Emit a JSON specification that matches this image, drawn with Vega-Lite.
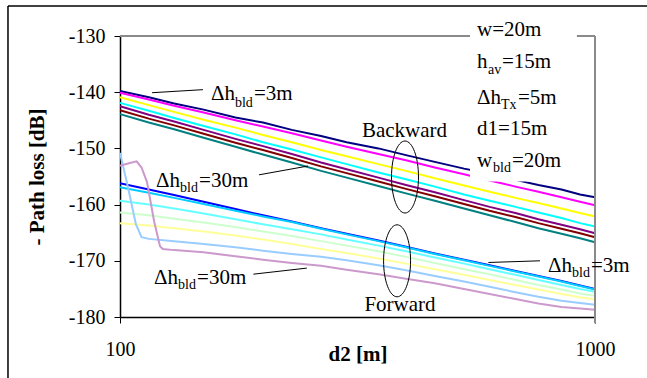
{
  "$schema": "https://vega.github.io/schema/vega-lite/v6.json",
  "width": 475,
  "height": 281,
  "autosize": {"type": "none"},
  "padding": {"left": 120, "top": 36, "right": 52, "bottom": 61},
  "background": "white",
  "config": {
    "font": "Times New Roman, Liberation Serif, serif",
    "text": {"font": "Times New Roman, Liberation Serif, serif"},
    "view": {"stroke": null},
    "axis": {"grid": false, "zindex": 1, "labelFont": "Times New Roman, Liberation Serif, serif", "titleFont": "Times New Roman, Liberation Serif, serif"}
  },
  "datasets": {
    "frame": [
      {"d": 58.1, "d2": 58.1, "pl": -124.64, "pl2": -200},
      {"d": 58.1, "d2": 2500, "pl": -124.64, "pl2": -124.64}
    ],
    "mask": [{"d": 545.6, "d2": 916, "pl": -155.9, "pl2": -125}],
    "border": [
      {"d": 100, "d2": 545.6, "pl": -130, "pl2": -130},
      {"d": 916, "d2": 1000, "pl": -130, "pl2": -130},
      {"d": 1000, "d2": 1000, "pl": -130, "pl2": -181.1}
    ],
    "leaders": [
      {"d": 116.8, "d2": 149.5, "pl": -140.09, "pl2": -139.55},
      {"d": 196.2, "d2": 248.9, "pl": -154.7, "pl2": -153.13},
      {"d": 190.9, "d2": 247.3, "pl": -172.38, "pl2": -171.3},
      {"d": 596.4, "d2": 766.0, "pl": -170.3, "pl2": -170.0}
    ],
    "ellipses": [
      {"d": 398.1, "pl": -155.09},
      {"d": 383.1, "pl": -170.0}
    ],
    "maintext": [
      {"t": "Δh", "d": 155.5, "pl": -141.43},
      {"t": "=3m", "d": 191.5, "pl": -141.43},
      {"t": "Δh", "d": 119.1, "pl": -156.91},
      {"t": "=30m", "d": 146.7, "pl": -156.91},
      {"t": "Δh", "d": 117.9, "pl": -174.16},
      {"t": "=30m", "d": 145.3, "pl": -174.16},
      {"t": "Δh", "d": 796.3, "pl": -171.96},
      {"t": "=3m", "d": 980.8, "pl": -171.96},
      {"t": "w=20m", "d": 564.5, "pl": -130},
      {"t": "h", "d": 564.5, "pl": -135.71},
      {"t": "=15m", "d": 637.2, "pl": -135.71},
      {"t": "Δh", "d": 564.5, "pl": -142.02},
      {"t": "=5m", "d": 688.5, "pl": -142.02},
      {"t": "d1=15m", "d": 564.5, "pl": -147.68},
      {"t": "w", "d": 564.5, "pl": -153.34},
      {"t": "=20m", "d": 668.7, "pl": -153.34}
    ],
    "subtext": [
      {"t": "bld", "d": 174.6, "pl": -142.59},
      {"t": "bld", "d": 133.8, "pl": -157.8},
      {"t": "bld", "d": 132.5, "pl": -175.05},
      {"t": "bld", "d": 894.5, "pl": -172.86},
      {"t": "av", "d": 595.5, "pl": -136.79},
      {"t": "Tx", "d": 634.1, "pl": -142.95},
      {"t": "bld", "d": 610.0, "pl": -154.23}
    ],
    "centertext": [
      {"t": "Backward", "d": 397.2, "pl": -147.98},
      {"t": "Forward", "d": 388.6, "pl": -178.93}
    ],
    "lines": [
      {"s":"B1","d":100,"pl":-139.8},{"s":"B1","d":115,"pl":-140.9},{"s":"B1","d":130,"pl":-142.0},{"s":"B1","d":150,"pl":-143.1},{"s":"B1","d":175,"pl":-144.5},{"s":"B1","d":200,"pl":-145.4},{"s":"B1","d":230,"pl":-146.7},{"s":"B1","d":265,"pl":-147.8},{"s":"B1","d":300,"pl":-148.9},{"s":"B1","d":350,"pl":-150.0},{"s":"B1","d":400,"pl":-151.2},{"s":"B1","d":460,"pl":-152.4},{"s":"B1","d":530,"pl":-153.6},{"s":"B1","d":600,"pl":-154.5},{"s":"B1","d":680,"pl":-155.6},{"s":"B1","d":760,"pl":-156.5},{"s":"B1","d":850,"pl":-157.3},{"s":"B1","d":930,"pl":-158.2},{"s":"B1","d":1000,"pl":-158.7},
      {"s":"B2","d":100,"pl":-140.1},{"s":"B2","d":115,"pl":-141.3},{"s":"B2","d":130,"pl":-142.4},{"s":"B2","d":150,"pl":-143.6},{"s":"B2","d":175,"pl":-145.0},{"s":"B2","d":200,"pl":-146.1},{"s":"B2","d":230,"pl":-147.3},{"s":"B2","d":265,"pl":-148.6},{"s":"B2","d":300,"pl":-149.7},{"s":"B2","d":350,"pl":-151.0},{"s":"B2","d":400,"pl":-152.1},{"s":"B2","d":460,"pl":-153.4},{"s":"B2","d":530,"pl":-154.6},{"s":"B2","d":600,"pl":-155.7},{"s":"B2","d":680,"pl":-156.8},{"s":"B2","d":760,"pl":-157.7},{"s":"B2","d":850,"pl":-158.7},{"s":"B2","d":930,"pl":-159.5},{"s":"B2","d":1000,"pl":-160.1},
      {"s":"B3","d":100,"pl":-140.9},{"s":"B3","d":115,"pl":-142.3},{"s":"B3","d":130,"pl":-143.5},{"s":"B3","d":150,"pl":-144.9},{"s":"B3","d":175,"pl":-146.3},{"s":"B3","d":200,"pl":-147.6},{"s":"B3","d":230,"pl":-148.9},{"s":"B3","d":265,"pl":-150.3},{"s":"B3","d":300,"pl":-151.4},{"s":"B3","d":350,"pl":-152.8},{"s":"B3","d":400,"pl":-154.0},{"s":"B3","d":460,"pl":-155.3},{"s":"B3","d":530,"pl":-156.6},{"s":"B3","d":600,"pl":-157.7},{"s":"B3","d":680,"pl":-158.8},{"s":"B3","d":760,"pl":-159.7},{"s":"B3","d":850,"pl":-160.7},{"s":"B3","d":930,"pl":-161.5},{"s":"B3","d":1000,"pl":-162.1},
      {"s":"B4","d":100,"pl":-141.9},{"s":"B4","d":115,"pl":-143.3},{"s":"B4","d":130,"pl":-144.6},{"s":"B4","d":150,"pl":-146.0},{"s":"B4","d":175,"pl":-147.5},{"s":"B4","d":200,"pl":-148.9},{"s":"B4","d":230,"pl":-150.2},{"s":"B4","d":265,"pl":-151.6},{"s":"B4","d":300,"pl":-152.8},{"s":"B4","d":350,"pl":-154.3},{"s":"B4","d":400,"pl":-155.5},{"s":"B4","d":460,"pl":-156.8},{"s":"B4","d":530,"pl":-158.2},{"s":"B4","d":600,"pl":-159.3},{"s":"B4","d":680,"pl":-160.4},{"s":"B4","d":760,"pl":-161.4},{"s":"B4","d":850,"pl":-162.4},{"s":"B4","d":930,"pl":-163.3},{"s":"B4","d":1000,"pl":-163.9},
      {"s":"B5","d":100,"pl":-142.5},{"s":"B5","d":115,"pl":-144.0},{"s":"B5","d":130,"pl":-145.2},{"s":"B5","d":150,"pl":-146.7},{"s":"B5","d":175,"pl":-148.3},{"s":"B5","d":200,"pl":-149.6},{"s":"B5","d":230,"pl":-151.0},{"s":"B5","d":265,"pl":-152.5},{"s":"B5","d":300,"pl":-153.7},{"s":"B5","d":350,"pl":-155.2},{"s":"B5","d":400,"pl":-156.5},{"s":"B5","d":460,"pl":-157.8},{"s":"B5","d":530,"pl":-159.2},{"s":"B5","d":600,"pl":-160.4},{"s":"B5","d":680,"pl":-161.5},{"s":"B5","d":760,"pl":-162.6},{"s":"B5","d":850,"pl":-163.6},{"s":"B5","d":930,"pl":-164.4},{"s":"B5","d":1000,"pl":-165.1},
      {"s":"B6","d":100,"pl":-143.2},{"s":"B6","d":115,"pl":-144.7},{"s":"B6","d":130,"pl":-145.9},{"s":"B6","d":150,"pl":-147.4},{"s":"B6","d":175,"pl":-149.0},{"s":"B6","d":200,"pl":-150.3},{"s":"B6","d":230,"pl":-151.7},{"s":"B6","d":265,"pl":-153.2},{"s":"B6","d":300,"pl":-154.4},{"s":"B6","d":350,"pl":-155.9},{"s":"B6","d":400,"pl":-157.2},{"s":"B6","d":460,"pl":-158.5},{"s":"B6","d":530,"pl":-159.9},{"s":"B6","d":600,"pl":-161.1},{"s":"B6","d":680,"pl":-162.2},{"s":"B6","d":760,"pl":-163.3},{"s":"B6","d":850,"pl":-164.3},{"s":"B6","d":930,"pl":-165.1},{"s":"B6","d":1000,"pl":-165.8},
      {"s":"B7","d":100,"pl":-143.9},{"s":"B7","d":115,"pl":-145.4},{"s":"B7","d":130,"pl":-146.6},{"s":"B7","d":150,"pl":-148.1},{"s":"B7","d":175,"pl":-149.7},{"s":"B7","d":200,"pl":-151.1},{"s":"B7","d":230,"pl":-152.5},{"s":"B7","d":265,"pl":-154.0},{"s":"B7","d":300,"pl":-155.2},{"s":"B7","d":350,"pl":-156.7},{"s":"B7","d":400,"pl":-158.0},{"s":"B7","d":460,"pl":-159.3},{"s":"B7","d":530,"pl":-160.7},{"s":"B7","d":600,"pl":-161.9},{"s":"B7","d":680,"pl":-163.1},{"s":"B7","d":760,"pl":-164.2},{"s":"B7","d":850,"pl":-165.2},{"s":"B7","d":930,"pl":-166.0},{"s":"B7","d":1000,"pl":-166.7},
      {"s":"F1","d":100,"pl":-156.2},{"s":"F1","d":115,"pl":-157.3},{"s":"F1","d":130,"pl":-158.3},{"s":"F1","d":150,"pl":-159.5},{"s":"F1","d":175,"pl":-160.8},{"s":"F1","d":200,"pl":-161.9},{"s":"F1","d":230,"pl":-163.0},{"s":"F1","d":265,"pl":-164.2},{"s":"F1","d":300,"pl":-165.2},{"s":"F1","d":350,"pl":-166.4},{"s":"F1","d":400,"pl":-167.5},{"s":"F1","d":460,"pl":-168.7},{"s":"F1","d":530,"pl":-169.8},{"s":"F1","d":600,"pl":-170.8},{"s":"F1","d":680,"pl":-171.8},{"s":"F1","d":760,"pl":-172.7},{"s":"F1","d":850,"pl":-173.6},{"s":"F1","d":930,"pl":-174.4},{"s":"F1","d":1000,"pl":-175.0},
      {"s":"F2","d":100,"pl":-156.9},{"s":"F2","d":115,"pl":-157.9},{"s":"F2","d":130,"pl":-158.8},{"s":"F2","d":150,"pl":-159.9},{"s":"F2","d":175,"pl":-161.1},{"s":"F2","d":200,"pl":-162.1},{"s":"F2","d":230,"pl":-163.1},{"s":"F2","d":265,"pl":-164.3},{"s":"F2","d":300,"pl":-165.3},{"s":"F2","d":350,"pl":-166.5},{"s":"F2","d":400,"pl":-167.6},{"s":"F2","d":460,"pl":-168.8},{"s":"F2","d":530,"pl":-169.9},{"s":"F2","d":600,"pl":-170.9},{"s":"F2","d":680,"pl":-171.9},{"s":"F2","d":760,"pl":-172.8},{"s":"F2","d":850,"pl":-173.7},{"s":"F2","d":930,"pl":-174.5},{"s":"F2","d":1000,"pl":-175.1},
      {"s":"F3","d":100,"pl":-159.3},{"s":"F3","d":115,"pl":-160.0},{"s":"F3","d":130,"pl":-160.7},{"s":"F3","d":150,"pl":-161.6},{"s":"F3","d":175,"pl":-162.6},{"s":"F3","d":200,"pl":-163.5},{"s":"F3","d":230,"pl":-164.4},{"s":"F3","d":265,"pl":-165.3},{"s":"F3","d":300,"pl":-166.2},{"s":"F3","d":350,"pl":-167.3},{"s":"F3","d":400,"pl":-168.3},{"s":"F3","d":460,"pl":-169.4},{"s":"F3","d":530,"pl":-170.5},{"s":"F3","d":600,"pl":-171.5},{"s":"F3","d":680,"pl":-172.5},{"s":"F3","d":760,"pl":-173.4},{"s":"F3","d":850,"pl":-174.3},{"s":"F3","d":930,"pl":-175.0},{"s":"F3","d":1000,"pl":-175.5},
      {"s":"F4","d":100,"pl":-161.4},{"s":"F4","d":115,"pl":-161.9},{"s":"F4","d":130,"pl":-162.5},{"s":"F4","d":150,"pl":-163.2},{"s":"F4","d":175,"pl":-164.0},{"s":"F4","d":200,"pl":-164.8},{"s":"F4","d":230,"pl":-165.6},{"s":"F4","d":265,"pl":-166.5},{"s":"F4","d":300,"pl":-167.3},{"s":"F4","d":350,"pl":-168.3},{"s":"F4","d":400,"pl":-169.3},{"s":"F4","d":460,"pl":-170.4},{"s":"F4","d":530,"pl":-171.5},{"s":"F4","d":600,"pl":-172.4},{"s":"F4","d":680,"pl":-173.4},{"s":"F4","d":760,"pl":-174.3},{"s":"F4","d":850,"pl":-175.1},{"s":"F4","d":930,"pl":-175.8},{"s":"F4","d":1000,"pl":-176.2},
      {"s":"F5","d":100,"pl":-163.3},{"s":"F5","d":115,"pl":-163.7},{"s":"F5","d":130,"pl":-164.2},{"s":"F5","d":150,"pl":-164.8},{"s":"F5","d":175,"pl":-165.5},{"s":"F5","d":200,"pl":-166.2},{"s":"F5","d":230,"pl":-167.0},{"s":"F5","d":265,"pl":-167.9},{"s":"F5","d":300,"pl":-168.6},{"s":"F5","d":350,"pl":-169.6},{"s":"F5","d":400,"pl":-170.5},{"s":"F5","d":460,"pl":-171.5},{"s":"F5","d":530,"pl":-172.5},{"s":"F5","d":600,"pl":-173.4},{"s":"F5","d":680,"pl":-174.3},{"s":"F5","d":760,"pl":-175.1},{"s":"F5","d":850,"pl":-175.9},{"s":"F5","d":930,"pl":-176.5},{"s":"F5","d":1000,"pl":-176.9},
      {"s":"F6","d":100,"pl":-150.8},{"s":"F6","d":104,"pl":-157.0},{"s":"F6","d":108,"pl":-163.5},{"s":"F6","d":111,"pl":-165.8},{"s":"F6","d":115,"pl":-166.1},{"s":"F6","d":130,"pl":-166.5},{"s":"F6","d":150,"pl":-167.0},{"s":"F6","d":175,"pl":-167.6},{"s":"F6","d":200,"pl":-168.2},{"s":"F6","d":230,"pl":-168.8},{"s":"F6","d":265,"pl":-169.3},{"s":"F6","d":300,"pl":-169.9},{"s":"F6","d":350,"pl":-170.8},{"s":"F6","d":400,"pl":-171.7},{"s":"F6","d":460,"pl":-172.7},{"s":"F6","d":530,"pl":-173.7},{"s":"F6","d":600,"pl":-174.6},{"s":"F6","d":680,"pl":-175.6},{"s":"F6","d":760,"pl":-176.4},{"s":"F6","d":850,"pl":-177.1},{"s":"F6","d":930,"pl":-177.5},{"s":"F6","d":1000,"pl":-177.8},
      {"s":"F7","d":100,"pl":-153.1},{"s":"F7","d":104,"pl":-152.7},{"s":"F7","d":108.4,"pl":-152.3},{"s":"F7","d":111,"pl":-153.4},{"s":"F7","d":114,"pl":-156.0},{"s":"F7","d":118,"pl":-163.0},{"s":"F7","d":121.4,"pl":-167.4},{"s":"F7","d":123,"pl":-167.9},{"s":"F7","d":130,"pl":-168.1},{"s":"F7","d":150,"pl":-168.5},{"s":"F7","d":175,"pl":-169.2},{"s":"F7","d":200,"pl":-169.8},{"s":"F7","d":230,"pl":-170.4},{"s":"F7","d":265,"pl":-170.9},{"s":"F7","d":300,"pl":-171.6},{"s":"F7","d":350,"pl":-172.4},{"s":"F7","d":400,"pl":-173.2},{"s":"F7","d":460,"pl":-174.0},{"s":"F7","d":530,"pl":-175.0},{"s":"F7","d":600,"pl":-175.9},{"s":"F7","d":680,"pl":-176.8},{"s":"F7","d":760,"pl":-177.6},{"s":"F7","d":850,"pl":-178.2},{"s":"F7","d":930,"pl":-178.5},{"s":"F7","d":1000,"pl":-178.7}
    ]
  },
  "layer": [
    {
      "data": {"name": "lines"},
      "mark": {"type": "line", "strokeWidth": 2},
      "encoding": {
        "x": {
          "field": "d", "type": "quantitative",
          "scale": {"type": "log", "domain": [100, 1000], "nice": false},
          "axis": {
            "title": "d2 [m]", "values": [100, 1000], "format": "d",
            "labelFontSize": 20, "labelColor": "black", "labelBaseline": "alphabetic",
            "labelPadding": 32, "labelFlush": false, "labelOverlap": false,
            "tickSize": 6, "tickColor": "black", "domainColor": "black", "domainWidth": 1.5,
            "titleFontSize": 21, "titleFontWeight": "bold", "titleColor": "black",
            "titleBaseline": "alphabetic", "titleY": 43, "titleX": 237.5
          }
        },
        "y": {
          "field": "pl", "type": "quantitative",
          "scale": {"domain": [-180, -130], "nice": false, "zero": false},
          "axis": {
            "title": "- Path loss [dB]", "values": [-180, -170, -160, -150, -140, -130],
            "labelExpr": "'-' + abs(datum.value)",
            "labelFontSize": 20, "labelColor": "black", "labelPadding": 9,
            "tickSize": 6, "tickColor": "black", "domainColor": "black", "domainWidth": 1.5,
            "titleFontSize": 21, "titleFontWeight": "bold", "titleColor": "black",
            "titleAngle": -90, "titleX": -83, "titleY": 140.5,
            "titleAlign": "center", "titleBaseline": "middle"
          }
        },
        "color": {
          "field": "s", "type": "nominal", "legend": null,
          "scale": {
            "domain": ["B1","B2","B3","B4","B5","B6","B7","F1","F2","F3","F4","F5","F6","F7"],
            "range": ["#000080","#FF00FF","#FFFF00","#00FFFF","#800080","#800000","#008080","#0000FF","#00CCFF","#66FFFF","#CCFFCC","#FFFF99","#99CCFF","#CC99CC"]
          }
        }
      }
    },
    {
      "data": {"name": "frame"},
      "mark": {"type": "rule", "color": "black", "strokeWidth": 1.5},
      "encoding": {
        "x": {"field": "d", "type": "quantitative"},
        "x2": {"field": "d2"},
        "y": {"field": "pl", "type": "quantitative"},
        "y2": {"field": "pl2"}
      }
    },
    {
      "data": {"name": "mask"},
      "mark": {"type": "rect", "fill": "white", "strokeWidth": 0},
      "encoding": {
        "x": {"field": "d", "type": "quantitative"},
        "x2": {"field": "d2"},
        "y": {"field": "pl", "type": "quantitative"},
        "y2": {"field": "pl2"}
      }
    },
    {
      "data": {"name": "border"},
      "mark": {"type": "rule", "color": "#8a8a8a", "strokeWidth": 2},
      "encoding": {
        "x": {"field": "d", "type": "quantitative"},
        "x2": {"field": "d2"},
        "y": {"field": "pl", "type": "quantitative"},
        "y2": {"field": "pl2"}
      }
    },
    {
      "data": {"name": "leaders"},
      "mark": {"type": "rule", "color": "black", "strokeWidth": 1},
      "encoding": {
        "x": {"field": "d", "type": "quantitative"},
        "x2": {"field": "d2"},
        "y": {"field": "pl", "type": "quantitative"},
        "y2": {"field": "pl2"}
      }
    },
    {
      "data": {"name": "ellipses"},
      "mark": {"type": "point", "shape": "M0,-1A0.375,1,0,1,1,0,1A0.375,1,0,1,1,0,-1Z", "size": 5184, "filled": false, "color": "black", "strokeWidth": 1, "opacity": 1},
      "encoding": {
        "x": {"field": "d", "type": "quantitative"},
        "y": {"field": "pl", "type": "quantitative"}
      }
    },
    {
      "data": {"name": "maintext"},
      "mark": {"type": "text", "align": "left", "baseline": "alphabetic", "fontSize": 21, "color": "black", "font": "Times New Roman, Liberation Serif, serif"},
      "encoding": {
        "x": {"field": "d", "type": "quantitative"},
        "y": {"field": "pl", "type": "quantitative"},
        "text": {"field": "t"}
      }
    },
    {
      "data": {"name": "subtext"},
      "mark": {"type": "text", "align": "left", "baseline": "alphabetic", "fontSize": 14, "color": "black", "font": "Times New Roman, Liberation Serif, serif"},
      "encoding": {
        "x": {"field": "d", "type": "quantitative"},
        "y": {"field": "pl", "type": "quantitative"},
        "text": {"field": "t"}
      }
    },
    {
      "data": {"name": "centertext"},
      "mark": {"type": "text", "align": "center", "baseline": "alphabetic", "fontSize": 21, "color": "black", "font": "Times New Roman, Liberation Serif, serif"},
      "encoding": {
        "x": {"field": "d", "type": "quantitative"},
        "y": {"field": "pl", "type": "quantitative"},
        "text": {"field": "t"}
      }
    }
  ]
}
